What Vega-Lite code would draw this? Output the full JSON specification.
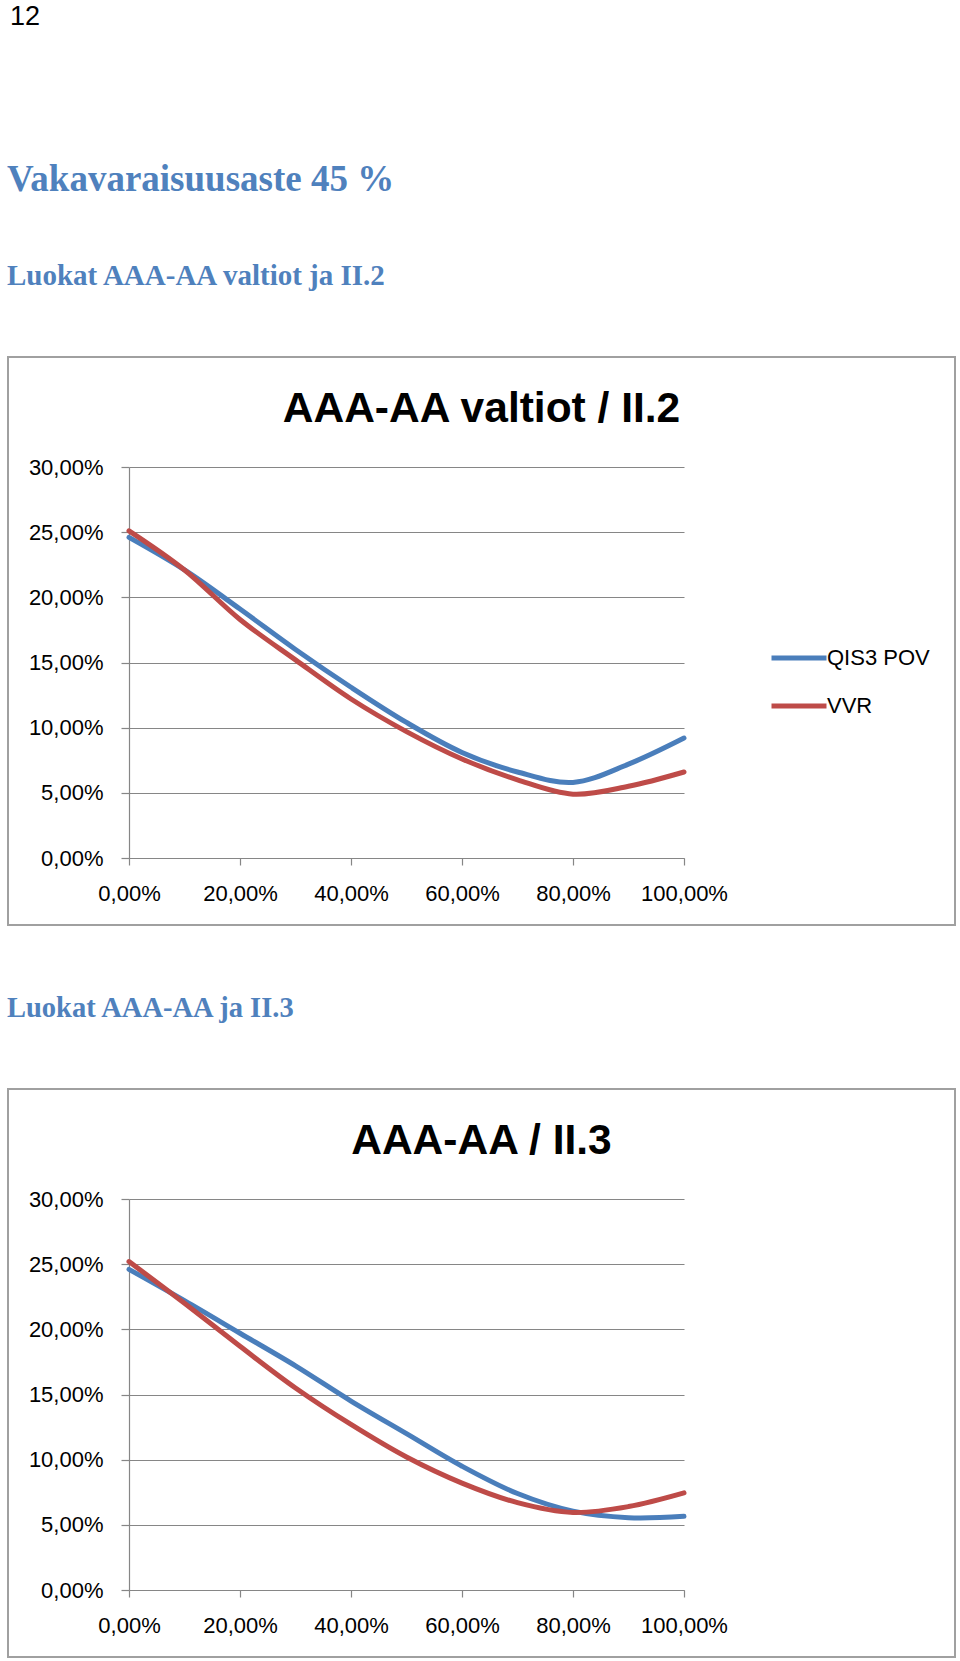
{
  "$schema": "https://vega.github.io/schema/vega-lite/v6.json",
  "padding": {"left": 7, "top": 3, "right": 4, "bottom": 0},
  "background": "white",
  "datasets": {
    "c1": [
      {"series": "QIS3 POV", "x": 0.0, "y": 0.246},
      {"series": "QIS3 POV", "x": 0.1, "y": 0.221},
      {"series": "QIS3 POV", "x": 0.2, "y": 0.191},
      {"series": "QIS3 POV", "x": 0.3, "y": 0.160},
      {"series": "QIS3 POV", "x": 0.4, "y": 0.131},
      {"series": "QIS3 POV", "x": 0.5, "y": 0.104},
      {"series": "QIS3 POV", "x": 0.6, "y": 0.081},
      {"series": "QIS3 POV", "x": 0.7, "y": 0.066},
      {"series": "QIS3 POV", "x": 0.8, "y": 0.058},
      {"series": "QIS3 POV", "x": 0.9, "y": 0.072},
      {"series": "QIS3 POV", "x": 1.0, "y": 0.092},
      {"series": "VVR", "x": 0.0, "y": 0.251},
      {"series": "VVR", "x": 0.1, "y": 0.221},
      {"series": "VVR", "x": 0.2, "y": 0.183},
      {"series": "VVR", "x": 0.3, "y": 0.152},
      {"series": "VVR", "x": 0.4, "y": 0.122},
      {"series": "VVR", "x": 0.5, "y": 0.097},
      {"series": "VVR", "x": 0.6, "y": 0.076},
      {"series": "VVR", "x": 0.7, "y": 0.060},
      {"series": "VVR", "x": 0.8, "y": 0.049},
      {"series": "VVR", "x": 0.9, "y": 0.055},
      {"series": "VVR", "x": 1.0, "y": 0.066}
    ],
    "c2": [
      {"series": "QIS3 POV", "x": 0.0, "y": 0.246},
      {"series": "QIS3 POV", "x": 0.1, "y": 0.222},
      {"series": "QIS3 POV", "x": 0.2, "y": 0.197},
      {"series": "QIS3 POV", "x": 0.3, "y": 0.172},
      {"series": "QIS3 POV", "x": 0.4, "y": 0.145},
      {"series": "QIS3 POV", "x": 0.5, "y": 0.120},
      {"series": "QIS3 POV", "x": 0.6, "y": 0.095},
      {"series": "QIS3 POV", "x": 0.7, "y": 0.074},
      {"series": "QIS3 POV", "x": 0.8, "y": 0.0605},
      {"series": "QIS3 POV", "x": 0.9, "y": 0.0555},
      {"series": "QIS3 POV", "x": 1.0, "y": 0.0565},
      {"series": "VVR", "x": 0.0, "y": 0.252},
      {"series": "VVR", "x": 0.1, "y": 0.220},
      {"series": "VVR", "x": 0.2, "y": 0.187},
      {"series": "VVR", "x": 0.3, "y": 0.155},
      {"series": "VVR", "x": 0.4, "y": 0.127},
      {"series": "VVR", "x": 0.5, "y": 0.102},
      {"series": "VVR", "x": 0.6, "y": 0.082},
      {"series": "VVR", "x": 0.7, "y": 0.067},
      {"series": "VVR", "x": 0.8, "y": 0.0595},
      {"series": "VVR", "x": 0.9, "y": 0.064},
      {"series": "VVR", "x": 1.0, "y": 0.0745}
    ]
  },
  "title": {
    "text": "12", "anchor": "start", "font": "Liberation Sans", "fontSize": 27,
    "fontWeight": "normal", "color": "#000000", "offset": 130, "dx": 3
  },
  "spacing": 67,
  "config": {
    "view": {"stroke": "#A0A0A0", "strokeWidth": 2, "fill": "white"},
    "axis": {
      "labelFont": "Liberation Sans", "labelFontSize": 22, "labelColor": "#000000",
      "domainColor": "#868686", "tickColor": "#868686", "gridColor": "#868686",
      "gridWidth": 1.2, "domainWidth": 1.2, "tickWidth": 1.2, "title": null,
      "labelOverlap": false, "labelFlush": false, "labelBound": false
    },
    "concat": {"spacing": 67}
  },
  "vconcat": [
    {
      "title": {
        "text": "Vakavaraisuusaste 45 %", "subtitle": "Luokat AAA-AA valtiot ja II.2",
        "anchor": "start", "font": "Liberation Serif", "fontSize": 37, "fontWeight": "bold",
        "color": "#4F81BD", "subtitleFont": "Liberation Serif", "subtitleFontSize": 29,
        "subtitleFontWeight": "bold", "subtitleColor": "#4F81BD", "subtitlePadding": 63, "offset": 64
      },
      "vconcat": [
        {
          "data": {"name": "c1"},
          "width": 947, "height": 568,
          "title": {
            "text": "AAA-AA valtiot / II.2", "font": "Liberation Sans", "fontSize": 42.5,
            "fontWeight": "bold", "color": "#000000", "anchor": "middle", "offset": -73
          },
          "mark": {"type": "line", "strokeWidth": 5, "interpolate": "catmull-rom", "strokeCap": "round"},
          "encoding": {
            "x": {
              "field": "x", "type": "quantitative",
              "scale": {"domain": [0, 1], "range": [121, 676], "nice": false, "zero": false},
              "axis": {
                "orient": "bottom", "offset": -67, "values": [0, 0.2, 0.4, 0.6, 0.8, 1],
                "labelExpr": "replace(format(datum.value, '.2%'), '.', ',')",
                "grid": false, "tickSize": 7, "labelPadding": 18
              }
            },
            "y": {
              "field": "y", "type": "quantitative",
              "scale": {"domain": [0, 0.3], "range": [501, 110], "nice": false},
              "axis": {
                "orient": "left", "offset": -121, "values": [0, 0.05, 0.1, 0.15, 0.2, 0.25, 0.3],
                "labelExpr": "replace(format(datum.value, '.2%'), '.', ',')",
                "grid": true, "tickSize": 8, "labelPadding": 18
              }
            },
            "color": {
              "field": "series", "type": "nominal",
              "scale": {"domain": ["QIS3 POV", "VVR"], "range": ["#4A7EBB", "#BE4B48"]},
              "legend": {
                "orient": "none", "legendX": 761, "legendY": 271, "title": null,
                "symbolType": "stroke", "symbolSize": 3025, "symbolStrokeWidth": 5,
                "labelFont": "Liberation Sans", "labelFontSize": 22, "labelColor": "#000000",
                "labelOffset": -2, "rowPadding": 7
              }
            }
          }
        }
      ]
    },
    {
      "title": {
        "text": "Luokat AAA-AA ja II.3",
        "anchor": "start", "font": "Liberation Serif", "fontSize": 28.5, "fontWeight": "bold",
        "color": "#4F81BD", "offset": 66
      },
      "vconcat": [
        {
          "data": {"name": "c2"},
          "width": 947, "height": 568,
          "title": {
            "text": "AAA-AA / II.3", "font": "Liberation Sans", "fontSize": 42.5,
            "fontWeight": "bold", "color": "#000000", "anchor": "middle", "offset": -73
          },
          "mark": {"type": "line", "strokeWidth": 5, "interpolate": "catmull-rom", "strokeCap": "round"},
          "encoding": {
            "x": {
              "field": "x", "type": "quantitative",
              "scale": {"domain": [0, 1], "range": [121, 676], "nice": false, "zero": false},
              "axis": {
                "orient": "bottom", "offset": -67, "values": [0, 0.2, 0.4, 0.6, 0.8, 1],
                "labelExpr": "replace(format(datum.value, '.2%'), '.', ',')",
                "grid": false, "tickSize": 7, "labelPadding": 18
              }
            },
            "y": {
              "field": "y", "type": "quantitative",
              "scale": {"domain": [0, 0.3], "range": [501, 110], "nice": false},
              "axis": {
                "orient": "left", "offset": -121, "values": [0, 0.05, 0.1, 0.15, 0.2, 0.25, 0.3],
                "labelExpr": "replace(format(datum.value, '.2%'), '.', ',')",
                "grid": true, "tickSize": 8, "labelPadding": 18
              }
            },
            "color": {
              "field": "series", "type": "nominal",
              "scale": {"domain": ["QIS3 POV", "VVR"], "range": ["#4A7EBB", "#BE4B48"]},
              "legend": {
                "orient": "none", "legendX": 761, "legendY": 271, "title": null,
                "symbolType": "stroke", "symbolSize": 3025, "symbolStrokeWidth": 5,
                "labelFont": "Liberation Sans", "labelFontSize": 22, "labelColor": "#000000",
                "labelOffset": -2, "rowPadding": 7
              }
            }
          }
        }
      ]
    }
  ]
}
